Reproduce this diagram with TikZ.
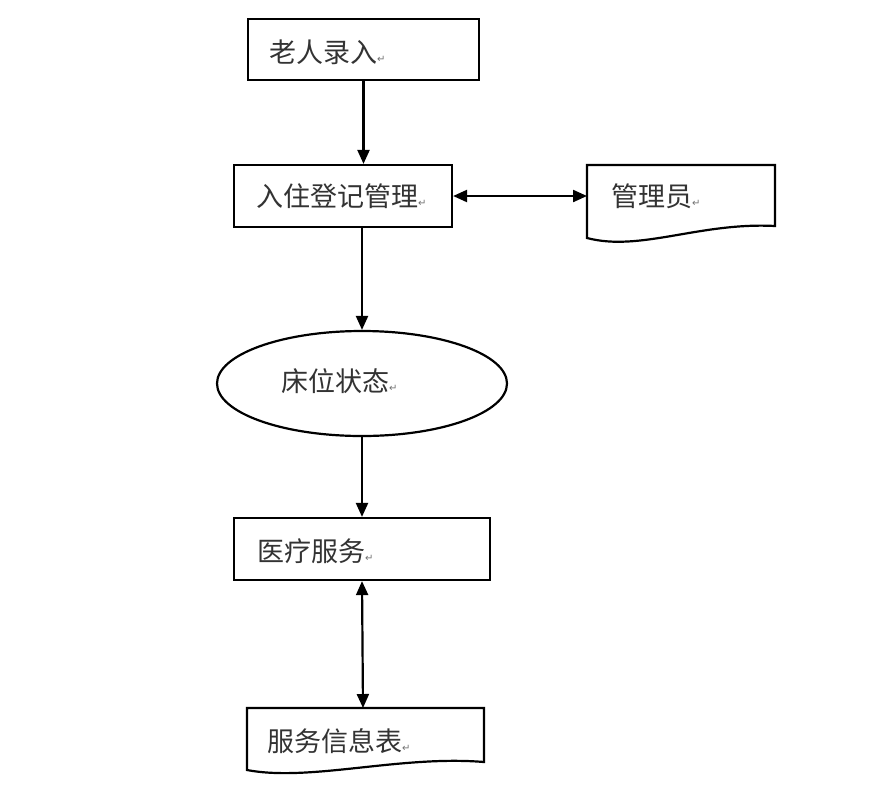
\documentclass[tikz,border=0pt]{standalone}
\usepackage{fontspec}
\newfontfamily\cjk{Noto Sans CJK SC}
\newfontfamily\dvs{DejaVu Sans}
\usetikzlibrary{arrows.meta,shapes.geometric}
\newcommand{\pmark}{{\dvs\fontsize{10}{10}\selectfont\textcolor{black!55}{↵}}}
\begin{document}
\begin{tikzpicture}[x=1pt,y=-1pt, line width=2.2pt,
  box/.style={draw, rectangle, inner sep=0pt},
  lbl/.style={anchor=west, font=\cjk\fontsize{27}{30}\selectfont, inner sep=0pt, text=black!80},
  arr/.style={-{Triangle[length=14pt,width=12pt]}},
  darr/.style={{Triangle[length=14pt,width=12pt]}-{Triangle[length=14pt,width=12pt]}}]
\useasboundingbox (0,0) rectangle (870,796);
\fill[white] (0,0) rectangle (870,796);

\node[box, minimum width=231pt, minimum height=61pt] (b1) at (363.5,49.5) {};
\node[lbl] (t1) at (268,52) {老人录入\pmark};

\node[box, minimum width=218pt, minimum height=62pt] (b2) at (343,196) {};
\node[lbl] (t2) at (255,196) {入住登记管理\pmark};

\draw (587,165) -- (775,165) -- (775,226) .. controls (700,222) and (640,252) .. (587,238) -- cycle;
\coordinate (d1l) at (587,196);
\node[lbl] (t3) at (610,196) {管理员\pmark};

\node[draw, ellipse, minimum width=290pt, minimum height=105pt, inner sep=0pt] (e) at (362,383.5) {};
\node[lbl] (t4) at (280,381) {床位状态\pmark};

\node[box, minimum width=256pt, minimum height=62pt] (b5) at (362,549) {};
\node[lbl] (t5) at (256,551) {医疗服务\pmark};

\draw (247,708) -- (484,708) -- (484,762) .. controls (400,755) and (310,782) .. (247,770) -- cycle;
\coordinate (d2t) at (363,708);
\node[lbl] (t6) at (266,741) {服务信息表\pmark};

\draw[arr] (b1.south) -- (b1.south |- b2.north);
\draw[arr] (e.north |- b2.south) -- (e.north);
\draw[arr] (e.south) -- (e.south |- b5.north);
\draw[darr] (b2.east) -- (d1l);
\draw[darr] (b5.south) -- (d2t);
\end{tikzpicture}
\end{document}
